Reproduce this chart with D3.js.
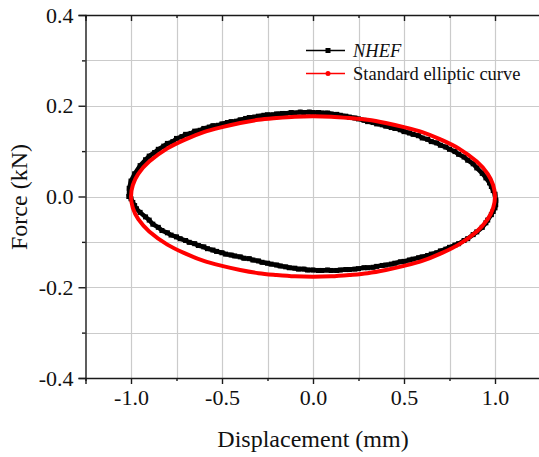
<!DOCTYPE html>
<html>
<head>
<meta charset="utf-8">
<script src="https://cdn.jsdelivr.net/npm/d3@7"></script>
<style>
	body { margin: 0; background: #fff; }
	svg, svg text { font-family: "Liberation Serif", "Times New Roman", Times, serif !important; }
</style>
</head>
<body>
<div id="chart"></div>
<script>
// hysteresis loop, NHEF vs standard ellipse

// axis ticks
var xTicks = [-1.0, -0.5, 0.0, 0.5, 1.0];
var xMinor = [-1.25, -0.75, -0.25, 0.25, 0.75, 1.25];
var yTicks = [-0.4, -0.2, 0.0, 0.2, 0.4];
var yMinor = [-0.3, -0.1, 0.1, 0.3];
var xLabels = ["-1.0", "-0.5", "0.0", "0.5", "1.0"];
var yLabels = ["-0.4", "-0.2", "0.0", "0.2", "0.4"];

var seriesNames = ["NHEF", "Standard elliptic curve"];

// NHEF loop, going round from the left end over the top
var nhefDisp = [-1.012, -1.01, -1.0, -0.98, -0.95, -0.92, -0.9, -0.87, -0.85, -0.82, -0.8, -0.77, -0.75, -0.72, -0.7, -0.67, -0.65, -0.62, -0.6, -0.57, -0.55, -0.52, -0.5, -0.47, -0.45, -0.42, -0.4, -0.37, -0.35, -0.32, -0.3, -0.27, -0.25, -0.22, -0.2, -0.17, -0.15, -0.12, -0.1, -0.07, -0.05, -0.02, 0.0, 0.03, 0.05, 0.08, 0.1, 0.13, 0.15, 0.18, 0.2, 0.23, 0.25, 0.28, 0.3, 0.33, 0.35, 0.38, 0.4, 0.43, 0.45, 0.48, 0.5, 0.53, 0.55, 0.58, 0.6, 0.63, 0.65, 0.68, 0.7, 0.73, 0.75, 0.78, 0.8, 0.83, 0.85, 0.88, 0.9, 0.93, 0.95, 0.97, 0.98, 0.99, 1.0, 1.005, 1.004, 1.0, 0.99, 0.98, 0.96, 0.95, 0.93, 0.9, 0.88, 0.85, 0.83, 0.8, 0.78, 0.75, 0.73, 0.7, 0.68, 0.65, 0.63, 0.6, 0.58, 0.55, 0.53, 0.5, 0.48, 0.45, 0.43, 0.4, 0.38, 0.35, 0.33, 0.3, 0.28, 0.25, 0.23, 0.2, 0.18, 0.15, 0.13, 0.1, 0.08, 0.05, 0.03, 0.0, -0.03, -0.05, -0.08, -0.1, -0.13, -0.15, -0.18, -0.2, -0.23, -0.25, -0.28, -0.3, -0.33, -0.35, -0.38, -0.4, -0.43, -0.45, -0.48, -0.5, -0.53, -0.55, -0.58, -0.6, -0.63, -0.65, -0.68, -0.7, -0.73, -0.75, -0.78, -0.8, -0.83, -0.85, -0.88, -0.9, -0.92, -0.95, -0.97, -0.98, -0.99, -1.0, -1.008];
var nhefForce = [0.0, 0.018, 0.034, 0.05, 0.068, 0.081, 0.089, 0.097, 0.104, 0.111, 0.117, 0.121, 0.128, 0.132, 0.137, 0.139, 0.144, 0.146, 0.150, 0.153, 0.156, 0.157, 0.160, 0.163, 0.165, 0.166, 0.169, 0.172, 0.174, 0.175, 0.177, 0.179, 0.180, 0.180, 0.182, 0.183, 0.183, 0.185, 0.184, 0.186, 0.185, 0.186, 0.185, 0.185, 0.184, 0.184, 0.182, 0.181, 0.179, 0.177, 0.175, 0.173, 0.171, 0.168, 0.165, 0.163, 0.160, 0.158, 0.155, 0.152, 0.150, 0.147, 0.143, 0.140, 0.137, 0.134, 0.129, 0.126, 0.121, 0.118, 0.113, 0.109, 0.104, 0.099, 0.093, 0.087, 0.080, 0.072, 0.063, 0.051, 0.041, 0.030, 0.022, 0.013, 0.005, -0.008, -0.018, -0.025, -0.033, -0.040, -0.052, -0.058, -0.068, -0.078, -0.084, -0.093, -0.097, -0.104, -0.107, -0.112, -0.116, -0.120, -0.124, -0.127, -0.130, -0.133, -0.135, -0.138, -0.140, -0.143, -0.144, -0.147, -0.149, -0.151, -0.152, -0.154, -0.156, -0.157, -0.157, -0.159, -0.160, -0.161, -0.161, -0.162, -0.163, -0.163, -0.162, -0.163, -0.163, -0.162, -0.162, -0.160, -0.160, -0.158, -0.157, -0.155, -0.153, -0.151, -0.149, -0.147, -0.145, -0.142, -0.140, -0.137, -0.136, -0.133, -0.131, -0.129, -0.127, -0.124, -0.121, -0.118, -0.115, -0.111, -0.108, -0.104, -0.101, -0.097, -0.093, -0.089, -0.085, -0.080, -0.075, -0.068, -0.061, -0.052, -0.045, -0.035, -0.027, -0.020, -0.013, -0.005, 0.0];

// standard ellipse, same direction
var ellipseDisp = [-1.0, -0.99, -0.96, -0.9, -0.8, -0.7, -0.6, -0.5, -0.4, -0.3, -0.2, -0.1, 0.0, 0.1, 0.2, 0.3, 0.4, 0.5, 0.6, 0.7, 0.8, 0.9, 0.96, 0.99, 1.0, 0.99, 0.96, 0.9, 0.8, 0.7, 0.6, 0.5, 0.4, 0.3, 0.2, 0.1, 0.0, -0.1, -0.2, -0.3, -0.4, -0.5, -0.6, -0.7, -0.8, -0.9, -0.96, -0.99];
var ellipseForce = [0.0, 0.025, 0.050, 0.077, 0.106, 0.126, 0.142, 0.153, 0.162, 0.169, 0.173, 0.176, 0.177, 0.176, 0.173, 0.169, 0.162, 0.153, 0.142, 0.126, 0.106, 0.077, 0.050, 0.025, 0.0, -0.025, -0.050, -0.077, -0.106, -0.126, -0.142, -0.153, -0.162, -0.169, -0.173, -0.176, -0.177, -0.176, -0.173, -0.169, -0.162, -0.153, -0.142, -0.126, -0.106, -0.077, -0.050, -0.025];

var width = 539, height = 457;
// plot box (note: "top" is taken by window.top, so prefix these)
var plotLeft = 85.5, plotRight = 540.5, plotTop = 15, plotBottom = 378;

var svg = d3.select("#chart").append("svg")
	.attr("width", width)
	.attr("height", height);

var x = d3.scaleLinear().domain([-1.25, 1.25]).range([plotLeft, plotRight]);
var y = d3.scaleLinear().domain([-0.4, 0.4]).range([plotBottom, plotTop]);

// grid lines
var grid = svg.append("g").attr("id", "grid");
xTicks.concat(xMinor).forEach(function(v){
	if (v <= -1.25) return;
	grid.append("line")
		.attr("x1", Math.round(x(v)) + 0.5).attr("x2", Math.round(x(v)) + 0.5)
		.attr("y1", plotTop).attr("y2", plotBottom)
		.attr("stroke", "#cbcbcb").attr("stroke-width", 1.2);
});
yTicks.concat(yMinor).forEach(function(v){
	if (v <= -0.4 || v >= 0.4) return;
	grid.append("line")
		.attr("x1", plotLeft).attr("x2", plotRight)
		.attr("y1", Math.round(y(v)) + 0.5).attr("y2", Math.round(y(v)) + 0.5)
		.attr("stroke", "#cbcbcb").attr("stroke-width", 1.2);
});

// data
var nhef = nhefDisp.map(function(d, i){ return [d, nhefForce[i]]; });
var ellipse = ellipseDisp.map(function(d, i){ return [d, ellipseForce[i]]; });

var line = d3.line()
	.x(function(d){ return x(d[0]); })
	.y(function(d){ return y(d[1]); });

svg.append("path")
	.datum(nhef)
	.attr("fill", "none")
	.attr("stroke", "#000")
	.attr("stroke-width", 4.5)
	.attr("d", line);

svg.append("g").selectAll("rect")
	.data(nhef)
	.enter().append("rect")
	.attr("x", function(d){ return x(d[0]) - 2.5; })
	.attr("y", function(d){ return y(d[1]) - 2.5; })
	.attr("width", 5)
	.attr("height", 5)
	.attr("fill", "#000");

svg.append("path")
	.datum(ellipse)
	.attr("fill", "none")
	.attr("stroke", "#ff0000")
	.attr("stroke-width", 4)
	.attr("d", line.curve(d3.curveCardinalClosed));

// axes
var xAxis = d3.axisBottom(x).tickValues(xTicks).tickSize(6).tickFormat(function(d, i){ return xLabels[i]; });
var xAxisMinor = d3.axisBottom(x).tickValues(xMinor).tickSize(3).tickFormat("");
var yAxis = d3.axisLeft(y).tickValues(yTicks).tickSize(7).tickFormat(function(d, i){ return yLabels[i]; });
var yAxisMinor = d3.axisLeft(y).tickValues(yMinor).tickSize(3.5).tickFormat("");
var topAxis = d3.axisBottom(x).tickValues(xTicks).tickSize(6).tickFormat("");
var topAxisMinor = d3.axisBottom(x).tickValues(xMinor).tickSize(3).tickFormat("");

function styleAxis(g){
	g.attr("font-size", 22);
	g.select(".domain").attr("stroke", "#1a1a1a").attr("stroke-width", 1.4);
	g.selectAll(".tick line").attr("stroke", "#1a1a1a").attr("stroke-width", 1.4);
	g.selectAll(".tick text").attr("fill", "#111");
}

svg.append("g").attr("transform", "translate(0," + plotBottom + ")").call(xAxis).call(styleAxis)
	.selectAll(".tick text").attr("dy", "0.75em").attr("y", 10);
svg.append("g").attr("transform", "translate(0," + plotBottom + ")").call(xAxisMinor).call(styleAxis)
	.select(".domain").remove();
svg.append("g").attr("transform", "translate(0," + plotTop + ")").call(topAxis).call(styleAxis);
svg.append("g").attr("transform", "translate(0," + plotTop + ")").call(topAxisMinor).call(styleAxis)
	.select(".domain").remove();
svg.append("g").attr("transform", "translate(" + plotLeft + ",0)").call(yAxis).call(styleAxis)
	.selectAll(".tick text").attr("x", -12);
svg.append("g").attr("transform", "translate(" + plotLeft + ",0)").call(yAxisMinor).call(styleAxis)
	.select(".domain").remove();

// axis titles
svg.append("text")
	.attr("x", 313)
	.attr("y", 447)
	.attr("text-anchor", "middle")
	.attr("font-size", 24)
	.attr("fill", "#111")
	.text("Displacement (mm)");

svg.append("text")
	.attr("transform", "translate(27,197) rotate(-90)")
	.attr("text-anchor", "middle")
	.attr("font-size", 24)
	.attr("fill", "#111")
	.text("Force (kN)");

// legend
var legend = svg.append("g").attr("id", "legend");
var legendY = [50.5, 73.5];
var legendColor = ["#000", "#ff0000"];
seriesNames.forEach(function(name, i){
	legend.append("line")
		.attr("x1", 306).attr("x2", 345)
		.attr("y1", legendY[i]).attr("y2", legendY[i])
		.attr("stroke", legendColor[i]).attr("stroke-width", 1.5);
	if (i == 0) {
		legend.append("rect")
			.attr("x", 325.5).attr("y", legendY[i] - 2.5)
			.attr("width", 5).attr("height", 5)
			.attr("fill", legendColor[i]);
	} else {
		legend.append("circle")
			.attr("cx", 328).attr("cy", legendY[i])
			.attr("r", 2.5)
			.attr("fill", legendColor[i]);
	}
	legend.append("text")
		.attr("x", 353)
		.attr("y", legendY[i] + 6)
		.attr("font-size", 18.5)
		.attr("fill", "#111")
		.attr("font-style", i == 0 ? "italic" : null)
		.text(name);
});
</script>
</body>
</html>
